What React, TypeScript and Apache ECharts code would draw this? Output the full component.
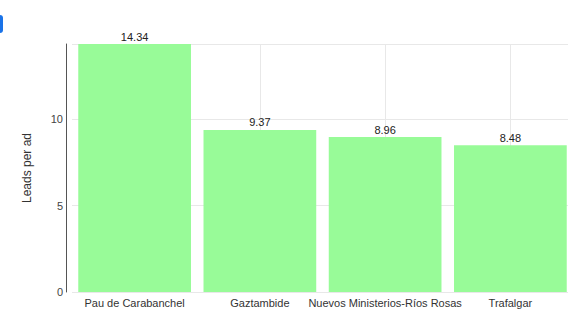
import React, { useEffect, useRef } from "react";
import * as echarts from "echarts";

const categories = ["Pau de Carabanchel", "Gaztambide", "Nuevos Ministerios-Ríos Rosas", "Trafalgar"];
const leadsPerAd = [14.34, 9.37, 8.96, 8.48];
const yTicks = [0, 5, 10];

export default function App() {
  const ref = useRef<HTMLDivElement>(null);
  useEffect(() => {
    if (!ref.current) return;
    const chart = echarts.init(ref.current, null, { renderer: "svg" });
    chart.setOption({
      animation: false,
      textStyle: { fontFamily: "Liberation Sans, Arial, sans-serif" },
      grid: { left: 72, right: 3, top: 44, bottom: 21, containLabel: false },
      xAxis: {
        type: "category",
        data: categories,
        axisLine: { show: false },
        axisTick: { show: false },
        axisLabel: { color: "#333", fontSize: 11, margin: 5, interval: 0 },
        splitLine: { show: false },
      },
      yAxis: {
        type: "value",
        min: 0,
        max: 14.34,
        interval: 5,
        offset: 6,
        name: "Leads per ad",
        nameLocation: "middle",
        nameRotate: 90,
        nameGap: 33,
        nameTextStyle: { color: "#333", fontSize: 12 },
        axisLine: { show: true, lineStyle: { color: "#555", width: 1 } },
        axisTick: { show: false },
        axisLabel: {
          color: "#444",
          fontSize: 11,
          margin: 3,
          showMaxLabel: false,
          formatter: (v: number) => (yTicks.includes(v) ? String(v) : ""),
        },
        splitLine: { show: true, lineStyle: { color: "#e8e8e8", width: 1 } },
      },
      series: [
        {
          type: "line",
          data: categories.map(() => null),
          z: 1,
          silent: true,
          showSymbol: false,
          lineStyle: { opacity: 0 },
          markLine: {
            silent: true,
            z: 1,
            symbol: "none",
            label: { show: false },
            lineStyle: { color: "#e8e8e8", width: 1, type: "solid" },
            data: categories.map((c) => ({ xAxis: c })),
          },
        },
        {
          type: "bar",
          data: leadsPerAd,
          z: 10,
          barCategoryGap: "10%",
          itemStyle: { color: "#98fb98" },
          label: {
            show: true,
            position: "top",
            distance: 2,
            color: "#222",
            fontSize: 11,
            formatter: (p: any) => p.value.toFixed(2),
          },
        },
      ],
      graphic: [
        {
          type: "rect",
          shape: { x: -6, y: 15, width: 9, height: 18, r: 3 },
          style: { fill: "#1a73e8" },
        },
      ],
    });
    return () => chart.dispose();
  }, []);
  return (
    <div
      ref={ref}
      style={{ position: "fixed", left: 0, top: 0, width: 576, height: 313, background: "#fff" }}
    />
  );
}
